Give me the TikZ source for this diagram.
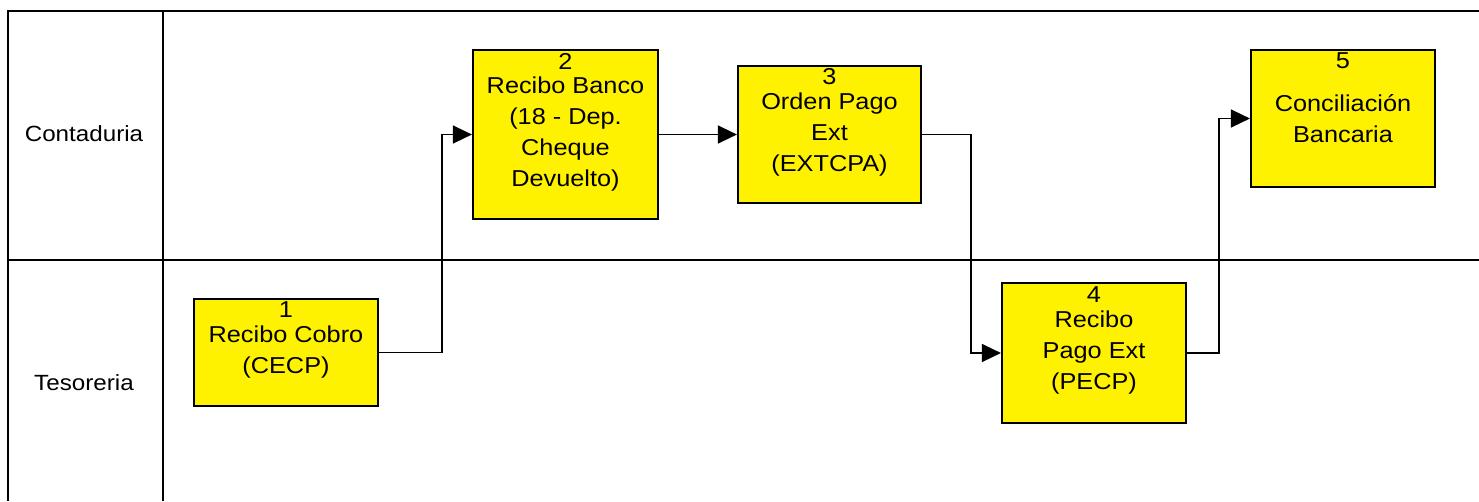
\documentclass[tikz,border=0pt]{standalone}
\usepackage{fontspec}
\setmainfont{Liberation Sans}[FakeStretch=1.1]
\usetikzlibrary{arrows.meta}
\begin{document}
\begin{tikzpicture}[x=1pt,y=-1pt,
  lane/.style={line width=1.4pt,black},
  procbox/.style={draw=black,line width=2.2pt,fill=yellow,rectangle,inner sep=0pt,align=center,
    font=\fontsize{23}{31}\selectfont},
  numlbl/.style={anchor=north,inner sep=0pt,font=\fontsize{23}{23}\selectfont},
  lanelbl/.style={font=\fontsize{22}{26}\selectfont},
  flow/.style={line width=1.5pt,-{Triangle[length=19pt,width=18pt]}}]
\useasboundingbox (0,0) rectangle (1479,501);
% swimlane frame
\coordinate (tl) at (8,11);
\coordinate (tr) at (1479,11);
\coordinate (bl) at (8,501);
\coordinate (dt) at (163,11);
\coordinate (db) at (163,501);
\coordinate (ml) at (8,260);
\coordinate (mr) at (1479,260);
\draw[lane] (tr) -- (tl) -- (bl);
\draw[lane] (dt) -- (db);
\draw[lane] (ml) -- (mr);
\node[lanelbl] (lc) at (84,134) {Contaduria};
\node[lanelbl] (lt) at (84,383) {Tesoreria};
% boxes
\node[procbox,minimum width=184pt,minimum height=107pt] (b1) at (286,352.5) {Recibo Cobro\\(CECP)};
\node[procbox,minimum width=185pt,minimum height=169pt] (b2) at (565.5,134.5) {Recibo Banco\\(18 - Dep.\\Cheque\\Devuelto)};
\node[procbox,minimum width=183pt,minimum height=137pt] (b3) at (829.5,134.5) {Orden Pago\\Ext\\(EXTCPA)};
\node[procbox,minimum width=184pt,minimum height=140pt] (b4) at (1094,353) {Recibo\\Pago Ext\\(PECP)};
\node[procbox,minimum width=184pt,minimum height=137pt] (b5) at (1343,118.5) {Conciliación\\Bancaria};
% numbers
\node[numlbl] (n1) at ([yshift=-4pt]b1.north) {1};
\node[numlbl] (n2) at ([yshift=-4pt]b2.north) {2};
\node[numlbl] (n3) at ([yshift=-3pt]b3.north) {3};
\node[numlbl] (n4) at ([yshift=-5pt]b4.north) {4};
\node[numlbl] (n5) at ([yshift=-4pt]b5.north) {5};
% connectors
\coordinate (t12) at (442,0);
\coordinate (t34) at (971,0);
\coordinate (t45) at (1219,0);
\draw[flow] (b1.east) -- (b1.east -| t12) |- (b2.west);
\draw[flow] (b2.east) -- (b3.west);
\draw[flow] (b3.east) -- (b3.east -| t34) |- (b4.west);
\draw[flow] (b4.east) -- (b4.east -| t45) |- (b5.west);
\end{tikzpicture}
\end{document}
